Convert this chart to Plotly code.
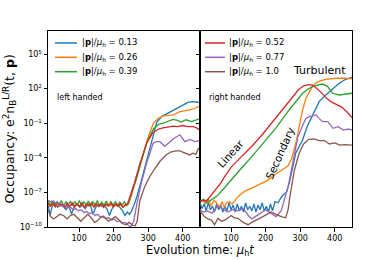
import plotly.graph_objects as go

# ---------------- data (log10 of occupancy) ----------------
# left handed
blueL_t = [10,16,22,30,38,46,54,62,70,78,86,94,102,110,118,126,134,140,148,156,164,172,180,188,194,202,210,218,226,233,240,246,252,260,267,280,292,305,315,325,340,355,372,388,402,415,428,440,450]
blueL_v = [-8.0,-9.0,-8.2,-7.9,-8.3,-8.0,-8.2,-8.5,-8.1,-8.9,-8.2,-8.0,-8.3,-8.1,-8.4,-8.0,-8.2,-8.9,-8.3,-8.0,-8.2,-8.1,-8.4,-9.0,-8.5,-8.1,-8.0,-8.3,-8.6,-9.0,-8.7,-8.9,-8.6,-8.0,-7.4,-6.0,-4.7,-3.3,-2.0,-0.9,-0.4,-0.15,0.15,0.4,0.6,0.8,0.88,0.87,0.8]

orangeL_t = [10,17,24,31,38,45,52,59,66,73,80,87,94,101,108,115,122,129,136,143,150,157,164,171,178,185,192,199,206,213,220,227,234,243,252,268,283,300,315,329,344,358,373,392,405,421,435,450]
orangeL_v = [-8.1,-8.2,-8.05,-8.25,-8.1,-8.2,-8.0,-8.25,-8.1,-8.2,-8.05,-8.25,-8.1,-8.2,-8.05,-8.25,-8.1,-8.2,-8.05,-8.25,-8.1,-8.2,-8.05,-8.25,-8.1,-8.2,-8.1,-8.25,-8.1,-8.2,-8.1,-8.25,-8.15,-8.0,-7.2,-5.6,-4.0,-2.2,-1.0,-0.57,-0.37,-0.3,-0.28,0.0,0.05,0.15,0.3,0.5]

greenL_t = [10,16,23,29,36,42,49,55,62,68,75,81,88,94,101,107,114,120,127,133,140,146,153,159,166,172,179,185,192,198,205,211,218,224,231,237,242,250,265,280,297,315,330,343,358,372,385,395,410,425,440,450]
greenL_v = [-7.7,-8.1,-7.75,-8.15,-7.8,-8.1,-7.7,-8.2,-7.8,-8.1,-7.75,-8.15,-7.8,-8.1,-7.7,-8.2,-7.8,-8.1,-7.75,-8.15,-7.8,-8.1,-7.7,-8.2,-7.85,-8.1,-7.75,-8.15,-7.8,-8.1,-7.8,-8.15,-7.85,-8.1,-7.8,-8.15,-8.0,-7.3,-5.9,-4.3,-2.6,-1.5,-1.1,-1.0,-0.8,-0.66,-0.75,-0.9,-0.7,-0.85,-0.7,-0.6]

redL_t = [10,17,24,31,38,45,52,59,66,73,80,87,94,101,108,115,122,129,136,143,150,157,164,171,178,185,192,199,206,213,220,227,234,240,247,260,276,296,314,330,343,358,372,385,400,415,430,440,450]
redL_v = [-7.9,-8.2,-7.95,-8.25,-7.9,-8.15,-8.0,-8.3,-7.95,-8.2,-7.9,-8.25,-8.0,-8.2,-7.9,-8.3,-8.0,-8.15,-7.9,-8.25,-8.0,-8.2,-7.95,-8.3,-8.0,-8.15,-7.9,-8.25,-8.0,-8.2,-7.95,-8.3,-8.05,-8.0,-7.4,-6.2,-4.5,-2.7,-1.8,-1.5,-1.4,-1.3,-1.25,-1.3,-1.2,-1.3,-1.3,-1.4,-1.6]

purpleL_t = [10,18,26,34,42,50,58,66,74,82,90,98,106,114,122,130,138,146,154,162,170,178,186,194,202,210,218,226,234,242,250,258,268,280,295,307,315,325,334,348,363,375,392,406,421,435,450]
purpleL_v = [-7.7,-7.8,-7.75,-8.0,-7.9,-8.2,-8.1,-8.35,-8.25,-8.5,-8.4,-8.6,-8.5,-8.75,-8.65,-8.85,-8.75,-9.0,-8.9,-9.15,-9.05,-9.25,-9.2,-9.4,-9.3,-9.55,-9.45,-9.65,-9.6,-9.85,-10.0,-9.5,-7.9,-6.2,-4.5,-3.3,-2.7,-2.6,-2.6,-3.0,-2.6,-2.3,-2.0,-2.6,-2.4,-2.6,-2.5]

brownL_t = [10,18,26,35,45,55,65,75,85,95,105,115,125,135,145,155,165,175,185,195,205,215,225,235,245,255,262,268,276,290,305,318,334,350,365,380,392,400,410,420,430,438,445,450]
brownL_v = [-8.5,-9.1,-9.3,-9.1,-8.9,-9.0,-9.3,-9.0,-8.9,-9.2,-9.5,-9.2,-8.9,-9.2,-9.6,-9.4,-9.1,-9.2,-9.5,-9.3,-9.1,-9.4,-9.7,-9.8,-9.6,-9.85,-9.9,-9.5,-7.7,-6.5,-5.6,-5.0,-4.3,-3.8,-3.5,-3.4,-3.4,-3.5,-3.6,-3.75,-3.6,-3.7,-3.2,-3.1]

# right handed
redR_t = [10,20,30,40,50,60,70,80,90,100,115,130,160,190,220,250,275,295,310,325,335,345,360,375,390,405,420,435,450]
redR_v = [-7.8,-7.7,-7.7,-7.35,-7.0,-6.6,-6.2,-5.7,-5.2,-4.8,-4.35,-3.9,-3.0,-2.0,-0.9,0.2,1.2,1.9,2.25,2.35,2.3,2.1,1.7,1.2,0.85,0.6,0.4,0.0,-0.5]

greenR_t = [10,20,30,40,48,60,72,86,100,115,130,160,202,230,268,290,307,322,336,350,365,379,394,413,430,442,450]
greenR_v = [-7.8,-7.6,-7.9,-7.7,-7.5,-7.3,-6.9,-6.4,-5.9,-5.4,-4.9,-3.9,-2.45,-1.4,0.15,0.95,1.6,1.95,2.17,2.3,2.4,2.2,1.6,1.45,1.5,1.6,1.6]

orangeR_t = [10,18,26,34,42,50,58,66,74,80,87,95,103,110,120,130,145,155,168,185,203,220,235,250,265,275,283,290,297,307,316,326,335,346,360,375,404,430,450]
orangeR_v = [-7.8,-7.7,-8.0,-7.6,-8.2,-7.7,-7.9,-8.3,-7.8,-8.3,-7.9,-7.8,-8.0,-7.7,-7.37,-7.1,-6.8,-6.7,-6.5,-6.3,-6.0,-5.6,-5.3,-5.0,-4.7,-4.1,-3.3,-2.4,-1.3,0.15,1.1,1.74,2.2,2.5,2.7,2.8,2.9,2.9,2.85]

blueR_t = [10,16,22,28,34,40,46,52,58,64,70,76,82,88,94,100,106,112,118,124,130,136,142,148,154,160,166,172,178,184,190,196,202,208,214,220,227,236,246,261,270,278,287,297,307,320,336,355,370,384,400,413,428,442,450]
blueR_v = [-7.9,-8.4,-8.0,-8.6,-7.9,-8.5,-8.2,-8.7,-8.0,-8.5,-8.1,-8.7,-8.2,-8.6,-7.9,-8.5,-8.1,-8.7,-8.0,-8.6,-8.2,-8.7,-7.9,-8.5,-8.2,-8.6,-8.0,-8.7,-8.1,-8.5,-7.9,-8.6,-8.2,-8.7,-8.0,-8.6,-7.8,-7.9,-7.37,-6.94,-6.0,-4.77,-3.6,-3.03,-2.45,-1.3,-0.28,0.87,1.35,1.74,2.1,2.46,2.75,2.9,3.0]

purpleR_t = [10,20,30,45,60,75,90,105,120,135,150,160,170,185,200,215,230,245,255,265,275,285,293,307,316,326,336,346,355,365,380,395,410,425,440,450]
purpleR_v = [-8.5,-8.7,-8.6,-8.8,-8.2,-8.4,-8.7,-8.5,-8.6,-8.4,-9.0,-9.3,-9.1,-8.8,-8.5,-8.8,-9.1,-8.6,-7.6,-6.5,-5.0,-3.3,-2.2,-1.2,-0.6,-0.43,-0.35,-0.28,-0.6,-0.86,-0.86,-1.44,-1.3,-1.6,-1.5,-1.6]

brownR_t = [10,23,33,43,52,62,72,82,92,100,110,120,135,149,160,168,180,192,204,216,230,245,258,265,270,283,297,310,325,340,355,370,385,400,415,430,450]
brownR_v = [-8.6,-9.1,-9.3,-9.4,-9.8,-9.25,-9.5,-9.4,-9.2,-9.0,-9.2,-9.25,-9.6,-9.8,-9.6,-9.5,-9.3,-9.1,-8.9,-8.7,-8.9,-9.1,-9.2,-8.5,-7.4,-5.1,-3.6,-2.8,-2.4,-2.35,-2.5,-2.5,-2.8,-2.7,-2.9,-2.85,-2.9]

x_ticks = [100, 200, 300, 400]
y_tick_exp = [-10, -7, -4, -1, 2, 5]
y_tick_text = ["10<sup>−10</sup>", "10<sup>−7</sup>", "10<sup>−4</sup>", "10<sup>−1</sup>", "10<sup>2</sup>", "10<sup>5</sup>"]

labels_left = ["0.13", "0.26", "0.39"]
labels_right = ["0.52", "0.77", "1.0"]

C = {"blue": "#1f77b4", "orange": "#ff7f0e", "green": "#2ca02c",
     "red": "#d62728", "purple": "#9467bd", "brown": "#8c564b"}

# ---------------- layout helpers (pixel -> paper) ----------------
W, H = 390, 260
ML, MR, MT, MB = 48, 38, 31, 33
PW, PH = W - ML - MR, H - MT - MB

def px(x):
    return (x - ML) / PW

def py(y):
    return (H - MB - y) / PH

def lab(v):
    return "|<b>p</b>|/<i>μ</i><sub>h</sub> = " + v

fig = go.Figure()
left = [(blueL_t, blueL_v, "blue"), (orangeL_t, orangeL_v, "orange"),
        (greenL_t, greenL_v, "green"), (redL_t, redL_v, "red"),
        (purpleL_t, purpleL_v, "purple"), (brownL_t, brownL_v, "brown")]
right = [(blueR_t, blueR_v, "blue"), (orangeR_t, orangeR_v, "orange"),
         (greenR_t, greenR_v, "green"), (redR_t, redR_v, "red"),
         (purpleR_t, purpleR_v, "purple"), (brownR_t, brownR_v, "brown")]

for t, v, c in left:
    fig.add_trace(go.Scatter(x=t, y=[10 ** a for a in v], mode="lines",
                             line=dict(color=C[c], width=1.3), name=c,
                             showlegend=False, xaxis="x", yaxis="y"))
for t, v, c in right:
    fig.add_trace(go.Scatter(x=t, y=[10 ** a for a in v], mode="lines",
                             line=dict(color=C[c], width=1.3), name=c,
                             showlegend=False, xaxis="x2", yaxis="y2"))

# manual legends (matplotlib-like compact handles)
shapes = []
annotations = []
leg_rows = [43, 57.3, 71.7]
for (x0, x1, xt, labs, cols) in [(55, 77, 80, labels_left, ["blue", "orange", "green"]),
                                 (205, 225, 227, labels_right, ["red", "purple", "brown"])]:
    for yr, l, c in zip(leg_rows, labs, cols):
        shapes.append(dict(type="line", xref="paper", yref="paper",
                           x0=px(x0), x1=px(x1), y0=py(yr), y1=py(yr),
                           line=dict(color=C[c], width=1.5)))
        annotations.append(dict(text=lab(l), xref="paper", yref="paper", x=px(xt), y=py(yr),
                                xanchor="left", yanchor="middle", showarrow=False,
                                font=dict(size=8.5)))

annotations += [
    dict(text="Occupancy: e<sup>2</sup>n<sub>B</sub><sup>L/R</sup>(t, <b>p</b>)", xref="paper", yref="paper",
         x=px(9.5), y=py(129), xanchor="center", yanchor="middle", textangle=-90,
         showarrow=False, font=dict(size=12.5)),
    dict(text="Evolution time: <i>μ</i><sub>h</sub><i>t</i>", xref="paper", yref="paper",
         x=px(200), y=py(251), xanchor="center", yanchor="middle", showarrow=False, font=dict(size=11.5)),
    dict(text="left handed", xref="paper", yref="paper", x=px(55), y=py(97.5),
         xanchor="left", yanchor="middle", showarrow=False, font=dict(size=8)),
    dict(text="right handed", xref="paper", yref="paper", x=px(207), y=py(97.5),
         xanchor="left", yanchor="middle", showarrow=False, font=dict(size=8)),
    dict(text="Turbulent", xref="paper", yref="paper", x=px(319), y=py(70),
         xanchor="center", yanchor="middle", showarrow=False, font=dict(size=11)),
    dict(text="Linear", xref="paper", yref="paper", x=px(230), y=py(154),
         xanchor="center", yanchor="middle", showarrow=False, textangle=-48, font=dict(size=10.5)),
    dict(text="Secondary", xref="paper", yref="paper", x=px(280), y=py(153),
         xanchor="center", yanchor="middle", showarrow=False, textangle=-66, font=dict(size=10.5)),
]

axis_common = dict(showline=True, linecolor="black", linewidth=1, mirror=True,
                   ticks="outside", ticklen=3.5, tickcolor="black", showgrid=False,
                   zeroline=False, automargin=False, tickfont=dict(size=8, color="black"))

fig.update_layout(
    width=W, height=H,
    margin=dict(l=ML, r=MR, t=MT, b=MB),
    paper_bgcolor="white", plot_bgcolor="white",
    font=dict(family="DejaVu Sans", color="black"),
    showlegend=False,
    xaxis=dict(domain=[0, 0.5], range=[10, 450], tickvals=x_ticks, **axis_common),
    xaxis2=dict(domain=[0.5, 1], range=[10, 450], tickvals=x_ticks, anchor="y2", **axis_common),
    yaxis=dict(type="log", range=[-10, 7], tickvals=[10 ** e for e in y_tick_exp],
               ticktext=y_tick_text, anchor="x", **axis_common),
    yaxis2=dict(type="log", range=[-10, 7], tickvals=[10 ** e for e in y_tick_exp],
                showticklabels=False, anchor="x2", matches="y", **axis_common),
    shapes=shapes,
    annotations=annotations,
)

fig.write_html("out.html", config={"displayModeBar": False},
               post_script="document.body.style.margin='0';")
